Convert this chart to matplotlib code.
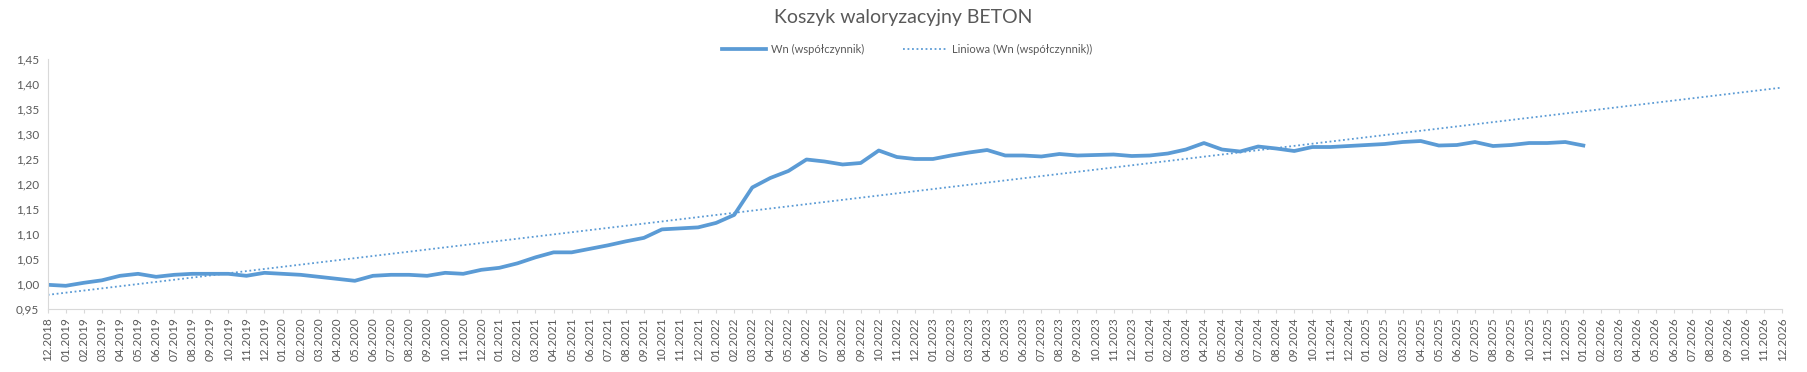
import numpy as np
import matplotlib
matplotlib.use("Agg")
import matplotlib.pyplot as plt
from matplotlib.ticker import FixedLocator, FuncFormatter

plt.rcParams["font.family"] = ["Lato", "DejaVu Sans"]

TITLE = "Koszyk waloryzacyjny BETON"
SERIES_LABEL = "Wn (współczynnik)"
TREND_LABEL = "Liniowa (Wn (współczynnik))"

# miesiące od 12.2018 do 12.2026 (oś), dane do 01.2026
MONTHS = ["12.2018"] + [f"{m:02d}.{y}" for y in range(2019, 2027) for m in range(1, 13)]

WN = [
    0.998, 0.996, 1.002, 1.007, 1.016, 1.020, 1.014, 1.018, 1.020, 1.020,
    1.020, 1.016, 1.022, 1.020, 1.018, 1.014, 1.010, 1.006, 1.016, 1.018,
    1.018, 1.016, 1.022, 1.020, 1.028, 1.032, 1.041, 1.053, 1.063, 1.063,
    1.070, 1.077, 1.085, 1.092, 1.109, 1.111, 1.113, 1.122, 1.138, 1.193,
    1.212, 1.226, 1.249, 1.245, 1.239, 1.242, 1.267, 1.254, 1.250, 1.250,
    1.257, 1.263, 1.268, 1.257, 1.257, 1.255, 1.260, 1.257, 1.258, 1.259,
    1.256, 1.257, 1.261, 1.269, 1.282, 1.269, 1.265, 1.275, 1.271, 1.266,
    1.274, 1.274, 1.276, 1.278, 1.280, 1.284, 1.286, 1.277, 1.278, 1.284,
    1.276, 1.278, 1.282, 1.282, 1.284, 1.277,
]

Y_TICKS = [0.95, 1.00, 1.05, 1.10, 1.15, 1.20, 1.25, 1.30, 1.35, 1.40, 1.45]

BLUE = "#5B9BD5"
GREY = "#595959"
AXIS_GREY = "#D9D9D9"


def main():
    x_all = np.arange(len(MONTHS))
    x_data = np.arange(len(WN))

    # linia trendu jak w Excelu: regresja liniowa, przedłużona do końca osi
    slope, intercept = np.polyfit(x_data, WN, 1)
    trend = slope * x_all + intercept

    fig = plt.figure(figsize=(18.07, 3.72), dpi=100)
    ax = fig.add_axes([0.0264, 0.170, 0.9598, 0.671])

    ax.plot(x_all, trend, color=BLUE, lw=1.3, linestyle=(0, (1, 1.5)), label=TREND_LABEL)
    ax.plot(x_data, WN, color=BLUE, lw=2.7, solid_joinstyle="round", label=SERIES_LABEL)

    ax.set_xlim(0, len(MONTHS) - 1)
    ax.set_ylim(Y_TICKS[0], Y_TICKS[-1])
    ax.xaxis.set_major_locator(FixedLocator(x_all))
    ax.set_xticklabels(MONTHS, rotation=90, fontsize=8.5, color=GREY)
    ax.yaxis.set_major_locator(FixedLocator(Y_TICKS))
    ax.yaxis.set_major_formatter(FuncFormatter(lambda v, _: f"{v:.2f}".replace(".", ",")))
    ax.tick_params(axis="y", length=0, labelsize=8.5, labelcolor=GREY, pad=6)
    ax.tick_params(axis="x", length=3, color=AXIS_GREY, pad=3)

    for side in ["top", "right"]:
        ax.spines[side].set_visible(False)
    ax.spines["left"].set_color(AXIS_GREY)
    ax.spines["bottom"].set_color(AXIS_GREY)

    fig.text(0.500, 0.952, TITLE, ha="center", va="center", fontsize=14, color=GREY)

    handles, labels = ax.get_legend_handles_labels()
    fig.legend(handles[::-1], labels[::-1], loc="center", bbox_to_anchor=(0.502, 0.866),
               ncol=2, frameon=False, fontsize=8, labelcolor=GREY,
               handlelength=4, columnspacing=3.5, handletextpad=0.4)

    fig.savefig("out.png", dpi=100)
    plt.close(fig)


if __name__ == "__main__":
    main()
